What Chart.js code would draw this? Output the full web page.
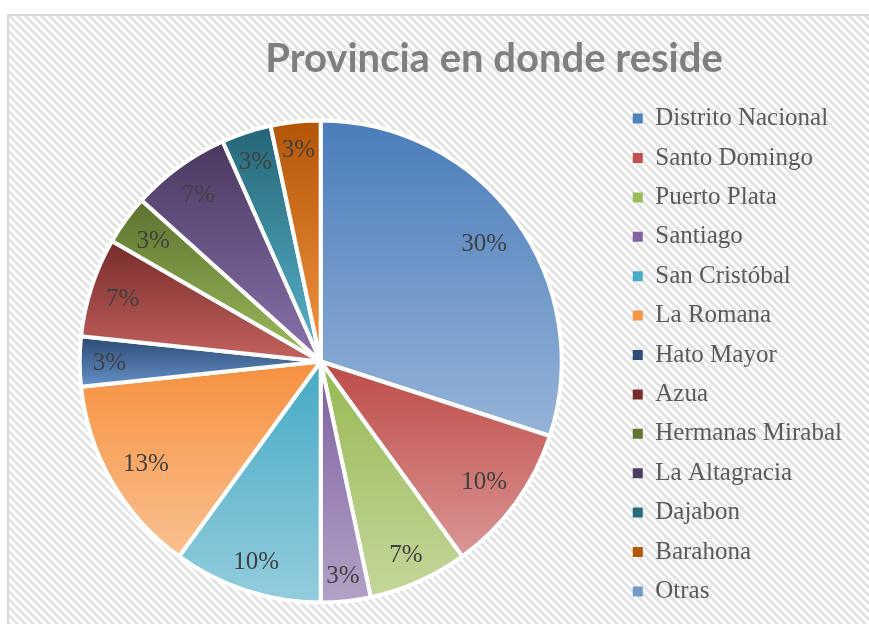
<!DOCTYPE html>
<html><head><meta charset="utf-8">
<script src="https://cdn.jsdelivr.net/npm/chart.js@4/dist/chart.umd.min.js"></script>
<style>html,body{margin:0;padding:0;background:#fff;overflow:hidden}</style>
</head><body>
<canvas id="c" width="869" height="624"></canvas>
<script>
const chartTitle = 'Provincia en donde reside';
const categories = ['Distrito Nacional','Santo Domingo','Puerto Plata','Santiago','San Cristóbal','La Romana','Hato Mayor','Azua','Hermanas Mirabal','La Altagracia','Dajabon','Barahona','Otras'];
const counts = [9, 3, 2, 1, 3, 4, 1, 2, 1, 2, 1, 1, 0];

const baseColors   = ['#4F81BD','#C0504D','#9BBB59','#8064A2','#4BACC6','#F79646','#2C4D75','#772C2A','#5F7530','#4D3B62','#276A7C','#B65708','#729ACA'];
const topColors    = ['#4A7DBB','#BE4B48','#97B852','#7C5F9F','#45A9C4','#F6913F','#2A4A72','#772C2A','#5C722E','#4A3860','#256678','#B45407','#6B95C8'];
const bottomColors = ['#95B3D7','#DA9694','#C4D79B','#B3A2C7','#93CDDD','#FAC090','#6590C8','#C4625F','#9DBD5C','#8A73AC','#5AB4CC','#F49643','#AEC6E5'];

const PIE_R = 241;
const total = counts.reduce((a,b)=>a+b,0);

function sliceGradient(chart, i){
  const ca = chart.chartArea;
  if (!ca) return baseColors[i];
  const cx = (ca.left + ca.right)/2, cy = (ca.top + ca.bottom)/2;
  let cum = 0; for (let k=0;k<i;k++) cum += counts[k];
  const s = -Math.PI/2 + 2*Math.PI*cum/total;
  const e = s + 2*Math.PI*counts[i]/total;
  const ys = [cy, cy + PIE_R*Math.sin(s), cy + PIE_R*Math.sin(e)];
  if (s <= Math.PI/2 && e >= Math.PI/2) ys.push(cy + PIE_R);
  if ((s <= -Math.PI/2 && e >= -Math.PI/2) || (s <= 1.5*Math.PI && e >= 1.5*Math.PI)) ys.push(cy - PIE_R);
  const y0 = Math.min(...ys), y1 = Math.max(...ys);
  const g = chart.ctx.createLinearGradient(0, y0, 0, Math.max(y1, y0+1));
  g.addColorStop(0, topColors[i]);
  g.addColorStop(1, bottomColors[i]);
  return g;
}

const bgPlugin = {
  id: 'bg',
  beforeDraw(chart){
    const ctx = chart.ctx, W = chart.width, H = chart.height;
    ctx.save();
    ctx.fillStyle = '#ffffff'; ctx.fillRect(0,0,W,H);
    const t = document.createElement('canvas'); t.width = 8; t.height = 8;
    const tc = t.getContext('2d');
    tc.fillStyle = '#ffffff'; tc.fillRect(0,0,8,8);
    tc.fillStyle = '#e3e3e3';
    for (let y=0;y<8;y++) for (let x=0;x<8;x++) { if ((((x - y) % 8) + 8) % 8 < 4) tc.fillRect(x,y,1,1); }
    ctx.fillStyle = ctx.createPattern(t, 'repeat');
    ctx.fillRect(8, 15, W-8, H-15);
    ctx.strokeStyle = '#d9d9d9'; ctx.lineWidth = 2;
    ctx.beginPath(); ctx.moveTo(8, H); ctx.lineTo(8, 15); ctx.lineTo(W, 15); ctx.stroke();
    ctx.restore();
  }
};

const shiftPlugin = {
  id: 'shift',
  afterLayout(chart){
    const ca = chart.chartArea;
    ca.top += 13; ca.height = ca.bottom - ca.top;
  }
};

const titlePlugin = {
  id: 'ttl',
  afterDraw(chart){
    const ctx = chart.ctx;
    ctx.save();
    ctx.font = 'bold 40px Lato';
    ctx.fillStyle = '#7F7F7F';
    ctx.textAlign = 'center'; ctx.textBaseline = 'alphabetic';
    ctx.fillText(chartTitle, 494, 72);
    ctx.restore();
  }
};

const labelPlugin = {
  id: 'pct',
  afterDatasetsDraw(chart){
    const ctx = chart.ctx;
    const meta = chart.getDatasetMeta(0);
    ctx.save();
    ctx.font = '25px "Liberation Serif"';
    ctx.fillStyle = '#404040';
    ctx.textAlign = 'center'; ctx.textBaseline = 'middle';
    meta.data.forEach((arc, i) => {
      if (!counts[i]) return;
      const p = arc.getProps(['x','y','startAngle','endAngle','outerRadius'], true);
      const mid = (p.startAngle + p.endAngle)/2;
      const txt = Math.round(counts[i]/total*100) + '%';
      const w = ctx.measureText(txt).width, h = 25;
      const ext = Math.abs(w/2*Math.cos(mid)) + Math.abs(h/2*Math.sin(mid));
      const d = p.outerRadius - 13 - ext;
      ctx.fillText(txt, p.x + d*Math.cos(mid), p.y + d*Math.sin(mid) + 2);
    });
    ctx.restore();
  }
};

new Chart(document.getElementById('c'), {
  type: 'pie',
  data: {
    labels: categories,
    datasets: [{
      data: counts,
      radius: PIE_R,
      backgroundColor: (c) => sliceGradient(c.chart, c.dataIndex),
      borderColor: '#ffffff',
      borderWidth: 4
    }]
  },
  options: {
    responsive: false,
    animation: false,
    events: [],
    layout: { padding: { top: 86, bottom: 0, left: 23, right: 17 } },
    plugins: {
      title: { display: false },
      tooltip: { enabled: false },
      legend: {
        position: 'right',
        align: 'center',
        labels: {
          font: { family: 'Liberation Serif', size: 25 },
          color: '#595959',
          boxWidth: 10,
          boxHeight: 10,
          padding: 14.4,
          generateLabels(chart){
            const items = Chart.overrides.doughnut.plugins.legend.labels.generateLabels(chart);
            items.forEach((it, i) => { it.fillStyle = baseColors[i]; it.lineWidth = 0; it.strokeStyle = 'rgba(0,0,0,0)'; });
            return items;
          }
        }
      }
    }
  },
  plugins: [bgPlugin, shiftPlugin, titlePlugin, labelPlugin]
});
</script>
</body></html>
